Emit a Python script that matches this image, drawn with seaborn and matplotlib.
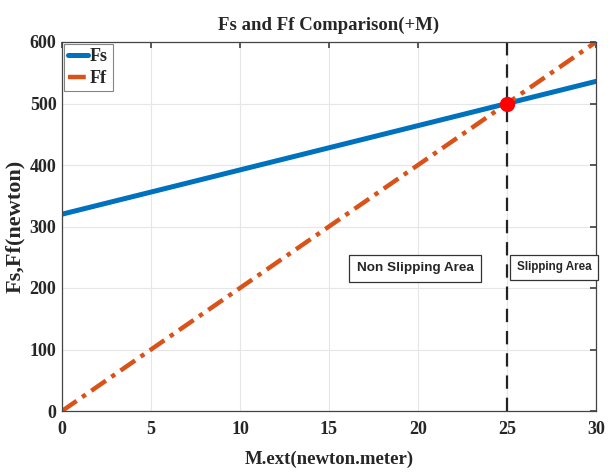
import numpy as np
import pandas as pd
import matplotlib
matplotlib.use("Agg")
import matplotlib.pyplot as plt
import seaborn as sns

m_ext = [0, 5, 10, 15, 20, 25, 30]
fs_vals = [320, 356, 392, 428, 464, 500, 536]
ff_vals = [0, 100, 200, 300, 400, 500, 600]
x_ticks = [0, 5, 10, 15, 20, 25, 30]
y_ticks = [0, 100, 200, 300, 400, 500, 600]
slip_point = (25, 500)

sns.set_theme(style="whitegrid")
plt.rcParams['font.family'] = ['Liberation Serif', 'DejaVu Serif']

df = pd.DataFrame({"M": m_ext, "Fs": fs_vals, "Ff": ff_vals})

fig = plt.figure(figsize=(6.08, 4.72), dpi=100)
ax = fig.add_axes([62/608, 1-411/472, 534/608, 369/472])

sns.lineplot(data=df, x="M", y="Fs", ax=ax, color="#0072BD", linewidth=3.6, label="Fs")
sns.lineplot(data=df, x="M", y="Ff", ax=ax, color="#D95319", linewidth=3.2,
             linestyle=(0, (4, 1.5, 1, 1.5)), label="Ff")
ax.axvline(25, color="#222222", linestyle=(0, (6, 4)), linewidth=1.6)
ax.plot([slip_point[0]], [slip_point[1]], 'o', color="red", markersize=10, zorder=5)

ax.set_xlim(0, 30)
ax.set_ylim(0, 600)
ax.set_xticks(x_ticks)
ax.set_yticks(y_ticks)
ax.grid(True, color="#e6e6e6", linewidth=0.8)
for s in ax.spines.values():
    s.set_color("#444444")
    s.set_linewidth(0.9)
ax.tick_params(axis="both", which="both", direction="in", length=4, top=True, right=True,
               labelsize=13, color="#444444")
ax.tick_params(axis="x", pad=7)
ax.tick_params(axis="y", pad=4)
for lab in ax.get_xticklabels() + ax.get_yticklabels():
    lab.set_fontweight("bold")

ax.set_title("Fs and Ff Comparison(+M)", fontsize=13.5, fontweight="bold", pad=9)
ax.set_xlabel("M.ext(newton.meter)", fontsize=13.5, fontweight="bold", labelpad=9)
ax.set_ylabel("Fs,Ff(newton)", fontsize=16, fontweight="bold", labelpad=3)

leg = ax.legend(loc="upper left", frameon=True, handlelength=1.1,
                handletextpad=0.1, borderpad=0.25, borderaxespad=0.1, labelspacing=0.25,
                fancybox=False, edgecolor="#666666", prop={"weight": "bold", "size": 13})
leg.get_frame().set_linewidth(0.8)

box = dict(boxstyle="square,pad=0.55", facecolor="white", edgecolor="#333333", linewidth=0.9)
ax.text(16.55, 232, "Non Slipping Area", fontsize=9.7, fontweight="bold",
        family=["Liberation Sans", "DejaVu Sans"], va="center", ha="left", bbox=box)
ax.text(25.55, 234, "Slipping Area", fontsize=8.4, fontweight="bold",
        family=["Liberation Sans", "DejaVu Sans"], va="center", ha="left",
        bbox=dict(boxstyle="square,pad=0.55", facecolor="white", edgecolor="#333333", linewidth=0.9))

fig.savefig("out.png", dpi=100)
